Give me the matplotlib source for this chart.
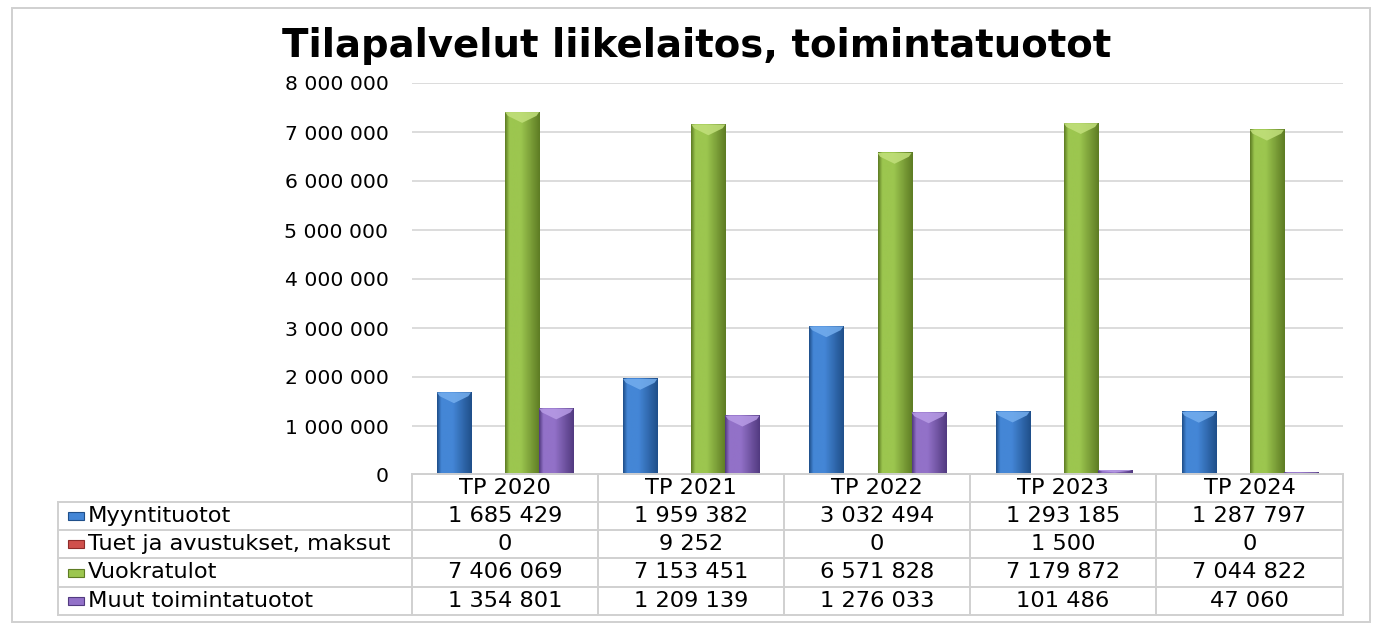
import matplotlib.pyplot as plt
import numpy as np
from matplotlib.colors import LinearSegmentedColormap
from matplotlib.patches import Rectangle, Polygon
from matplotlib.lines import Line2D

plt.rcParams['font.family'] = ['DejaVu Sans']

# data
years = ['TP 2020', 'TP 2021', 'TP 2022', 'TP 2023', 'TP 2024']
series = ['Myyntituotot', 'Tuet ja avustukset, maksut', 'Vuokratulot', 'Muut toimintatuotot']
myynti = [1685429, 1959382, 3032494, 1293185, 1287797]
tuet = [0, 9252, 0, 1500, 0]
vuokra = [7406069, 7153451, 6571828, 7179872, 7044822]
muut = [1354801, 1209139, 1276033, 101486, 47060]
values = [myynti, tuet, vuokra, muut]
yticks = [0, 1000000, 2000000, 3000000, 4000000, 5000000, 6000000, 7000000, 8000000]

# (dark edge, body, bevel top)
colors = [('#1F4F8A', '#4486D6', '#74AEEE'),
          ('#8E2C2A', '#D0504C', '#E8827F'),
          ('#5E7C24', '#9CC64F', '#C2E07C'),
          ('#523A80', '#9271C8', '#B89CE6')]

W, H = 1378, 630
fig = plt.figure(figsize=(W / 100, H / 100), dpi=100)

def fx(x):
    return x / W

def fy(y):
    return 1 - y / H

ax = fig.add_axes([fx(412), fy(475), fx(1343) - fx(412), fy(83) - fy(475)])

bw = 0.183
grad = np.linspace(0, 1, 64)[np.newaxis, :]
ymax = 8000000
bevel = 220000
for s, vals in enumerate(values):
    dark, light, top = colors[s]
    cmap = LinearSegmentedColormap.from_list('c%d' % s, [(0, dark), (0.12, light), (0.45, light), (1, dark)])
    for i, v in enumerate(vals):
        x0 = i + (s - 2) * bw
        x1 = x0 + bw
        if v <= 0:
            continue
        # tiny values still show as a hairline, like in the original
        h = max(v, 20000)
        ax.imshow(grad, extent=[x0, x1, 0, h], cmap=cmap, aspect='auto', zorder=2, interpolation='bilinear')
        d = min(bevel, v * 0.5)
        ax.add_patch(Polygon([(x0, v), (x1, v), (x1 - bw * 0.08, v - d * 0.35), ((x0 + x1) / 2, v - d),
                              (x0 + bw * 0.08, v - d * 0.35)], closed=True, facecolor=top, edgecolor='none',
                             alpha=0.85, zorder=3))

ax.set_xlim(-0.5, 4.5)
ax.set_ylim(0, ymax)
ax.set_yticks(yticks)
ax.set_yticklabels([f"{v:,}".replace(",", " ") for v in yticks], fontsize=14.7)
ax.set_xticks([])
ax.tick_params(axis='y', length=0, pad=17)
ax.yaxis.grid(True, color='#D9D9D9', linewidth=1.3, zorder=0)
ax.set_axisbelow(True)
for sp in ax.spines.values():
    sp.set_visible(False)

fig.text(fx(697), fy(57), 'Tilapalvelut liikelaitos, toimintatuotot', fontsize=27.8, fontweight='bold',
         ha='center', va='baseline')

# data table
line_c = '#D0D0D0'
col_x = [412, 598, 784, 970, 1156, 1343]
row_y = [474, 502, 530, 558, 587, 615]

def hline(y, xa, xb):
    fig.add_artist(Line2D([fx(xa), fx(xb)], [fy(y), fy(y)], color=line_c, lw=1.4))

def vline(x, ya, yb):
    fig.add_artist(Line2D([fx(x), fx(x)], [fy(ya), fy(yb)], color=line_c, lw=1.4))

hline(row_y[0], col_x[0], col_x[-1])
for y in row_y[1:]:
    hline(y, 58, col_x[-1])
vline(58, row_y[1], row_y[-1])
for x in col_x:
    vline(x, row_y[0], row_y[-1])

fs = 16.2
for i, yr in enumerate(years):
    xc = (col_x[i] + col_x[i + 1]) / 2
    fig.text(fx(xc), fy((row_y[0] + row_y[1]) / 2), yr, fontsize=fs, ha='center', va='center')

for s, name in enumerate(series):
    yc = (row_y[s + 1] + row_y[s + 2]) / 2
    dark, light, top = colors[s]
    fig.add_artist(Rectangle((fx(68), fy(yc + 4)), fx(16), 8 / H, facecolor=light, edgecolor=dark, lw=0.8))
    fig.text(fx(88), fy(yc), name, fontsize=fs, ha='left', va='center')
    for i, v in enumerate(values[s]):
        xc = (col_x[i] + col_x[i + 1]) / 2
        fig.text(fx(xc), fy(yc), f"{v:,}".replace(",", " "), fontsize=fs, ha='center', va='center')

# outer frame
fig.add_artist(Rectangle((fx(12), fy(622)), fx(1370) - fx(12), fy(8) - fy(622), facecolor='none',
                         edgecolor=line_c, lw=1.4))

fig.savefig('out.png', dpi=100)
